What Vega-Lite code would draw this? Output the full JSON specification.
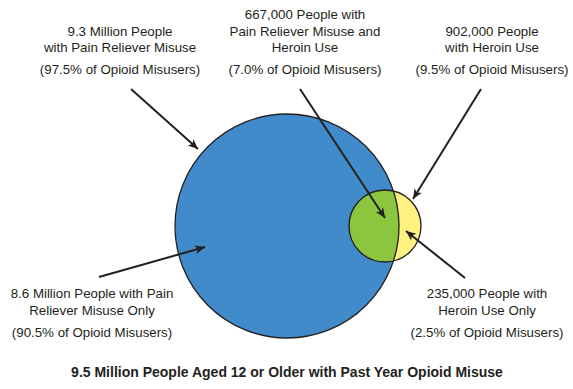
{
  "$schema": "https://vega.github.io/schema/vega-lite/v6.json",
  "width": 573,
  "height": 389,
  "autosize": "none",
  "padding": 0,
  "background": "white",
  "config": {"view": {"stroke": null}},
  "datasets": {
    "sets": [
      {"set": "Pain Reliever Misuse", "cx": 287, "cy": 226, "people_millions": 9.3},
      {"set": "Heroin Use", "cx": 385, "cy": 226, "people_millions": 0.902}
    ],
    "regions": [
      {"region": "Heroin Use Only", "cx": 287, "cy": 226, "t1": 1.2549, "t2": 1.8867, "r_in": 112, "r_out": 134},
      {"region": "Outside", "cx": 385, "cy": 226, "t1": 0.2356, "t2": 2.906, "r_in": 36, "r_out": 55}
    ],
    "arrows": [
      {"x": 131, "y": 89, "x2": 198, "y2": 149, "angle": 131.8},
      {"x": 300, "y": 89, "x2": 385, "y2": 218, "angle": 146.6},
      {"x": 481, "y": 89, "x2": 413, "y2": 199, "angle": 211.7},
      {"x": 465, "y": 278, "x2": 406, "y2": 231, "angle": 308.5},
      {"x": 99, "y": 277, "x2": 205, "y2": 247, "angle": 74.2}
    ],
    "labels": [
      {"label": "9.3 Million People", "x": 120, "y": 31.5},
      {"label": "with Pain Reliever Misuse", "x": 120, "y": 48},
      {"label": "(97.5% of Opioid Misusers)", "x": 120, "y": 70},
      {"label": "667,000 People with", "x": 305, "y": 15},
      {"label": "Pain Reliever Misuse and", "x": 305, "y": 31.5},
      {"label": "Heroin Use", "x": 305, "y": 48},
      {"label": "(7.0% of Opioid Misusers)", "x": 305, "y": 70},
      {"label": "902,000 People", "x": 492, "y": 31.5},
      {"label": "with Heroin Use", "x": 492, "y": 48},
      {"label": "(9.5% of Opioid Misusers)", "x": 492, "y": 70},
      {"label": "8.6 Million People with Pain", "x": 92, "y": 294},
      {"label": "Reliever Misuse Only", "x": 92, "y": 311},
      {"label": "(90.5% of Opioid Misusers)", "x": 92, "y": 333},
      {"label": "235,000 People with", "x": 487, "y": 294},
      {"label": "Heroin Use Only", "x": 487, "y": 311},
      {"label": "(2.5% of Opioid Misusers)", "x": 487, "y": 333}
    ],
    "title": [
      {"label": "9.5 Million People Aged 12 or Older with Past Year Opioid Misuse", "x": 287, "y": 373}
    ]
  },
  "layer": [
    {
      "data": {"name": "sets"},
      "mark": {"type": "point", "shape": "circle", "filled": true, "opacity": 1, "strokeWidth": 0},
      "encoding": {
        "x": {"field": "cx", "type": "quantitative", "scale": {"domain": [0, 573], "nice": false, "zero": false}, "axis": null},
        "y": {"field": "cy", "type": "quantitative", "scale": {"domain": [389, 0], "nice": false, "zero": false}, "axis": null},
        "size": {"field": "people_millions", "type": "quantitative", "scale": {"type": "linear", "zero": false, "domain": [0.902, 9.3], "range": [5184, 50176]}, "legend": null},
        "color": {"field": "set", "type": "nominal", "scale": {"domain": ["Pain Reliever Misuse", "Heroin Use"], "range": ["#428BCA", "#8CC63F"]}, "legend": null},
        "order": {"field": "people_millions", "sort": "descending"}
      }
    },
    {
      "data": {"name": "regions"},
      "mark": {"type": "arc", "strokeWidth": 0},
      "encoding": {
        "x": {"field": "cx", "type": "quantitative"},
        "y": {"field": "cy", "type": "quantitative"},
        "theta": {"field": "t1", "type": "quantitative", "scale": null, "stack": null},
        "theta2": {"field": "t2"},
        "radius": {"field": "r_out", "type": "quantitative", "scale": null},
        "radius2": {"field": "r_in"},
        "fill": {"field": "region", "type": "nominal", "scale": {"domain": ["Heroin Use Only", "Outside"], "range": ["#FFF17F", "#FFFFFF"]}, "legend": null}
      }
    },
    {
      "data": {"name": "sets"},
      "mark": {"type": "point", "shape": "circle", "filled": false, "opacity": 1, "color": "#231F20", "strokeWidth": 1.3},
      "encoding": {
        "x": {"field": "cx", "type": "quantitative"},
        "y": {"field": "cy", "type": "quantitative"},
        "size": {"field": "people_millions", "type": "quantitative"}
      }
    },
    {
      "data": {"name": "arrows"},
      "mark": {"type": "rule", "color": "#231F20", "strokeWidth": 2},
      "encoding": {
        "x": {"field": "x", "type": "quantitative"},
        "y": {"field": "y", "type": "quantitative"},
        "x2": {"field": "x2"},
        "y2": {"field": "y2"}
      }
    },
    {
      "data": {"name": "arrows"},
      "mark": {"type": "point", "shape": "M0,0 L0.5,1.15 L0,0.85 L-0.5,1.15 Z", "filled": true, "opacity": 1, "color": "#231F20", "size": 300, "strokeWidth": 0},
      "encoding": {
        "x": {"field": "x2", "type": "quantitative"},
        "y": {"field": "y2", "type": "quantitative"},
        "angle": {"field": "angle", "type": "quantitative", "scale": null}
      }
    },
    {
      "data": {"name": "labels"},
      "mark": {"type": "text", "font": "Liberation Sans", "fontSize": 13.3, "color": "#231F20", "align": "center", "baseline": "middle"},
      "encoding": {
        "x": {"field": "x", "type": "quantitative"},
        "y": {"field": "y", "type": "quantitative"},
        "text": {"field": "label"}
      }
    },
    {
      "data": {"name": "title"},
      "mark": {"type": "text", "font": "Liberation Sans", "fontSize": 14, "fontWeight": "bold", "color": "#231F20", "align": "center", "baseline": "middle"},
      "encoding": {
        "x": {"field": "x", "type": "quantitative"},
        "y": {"field": "y", "type": "quantitative"},
        "text": {"field": "label"}
      }
    }
  ]
}
